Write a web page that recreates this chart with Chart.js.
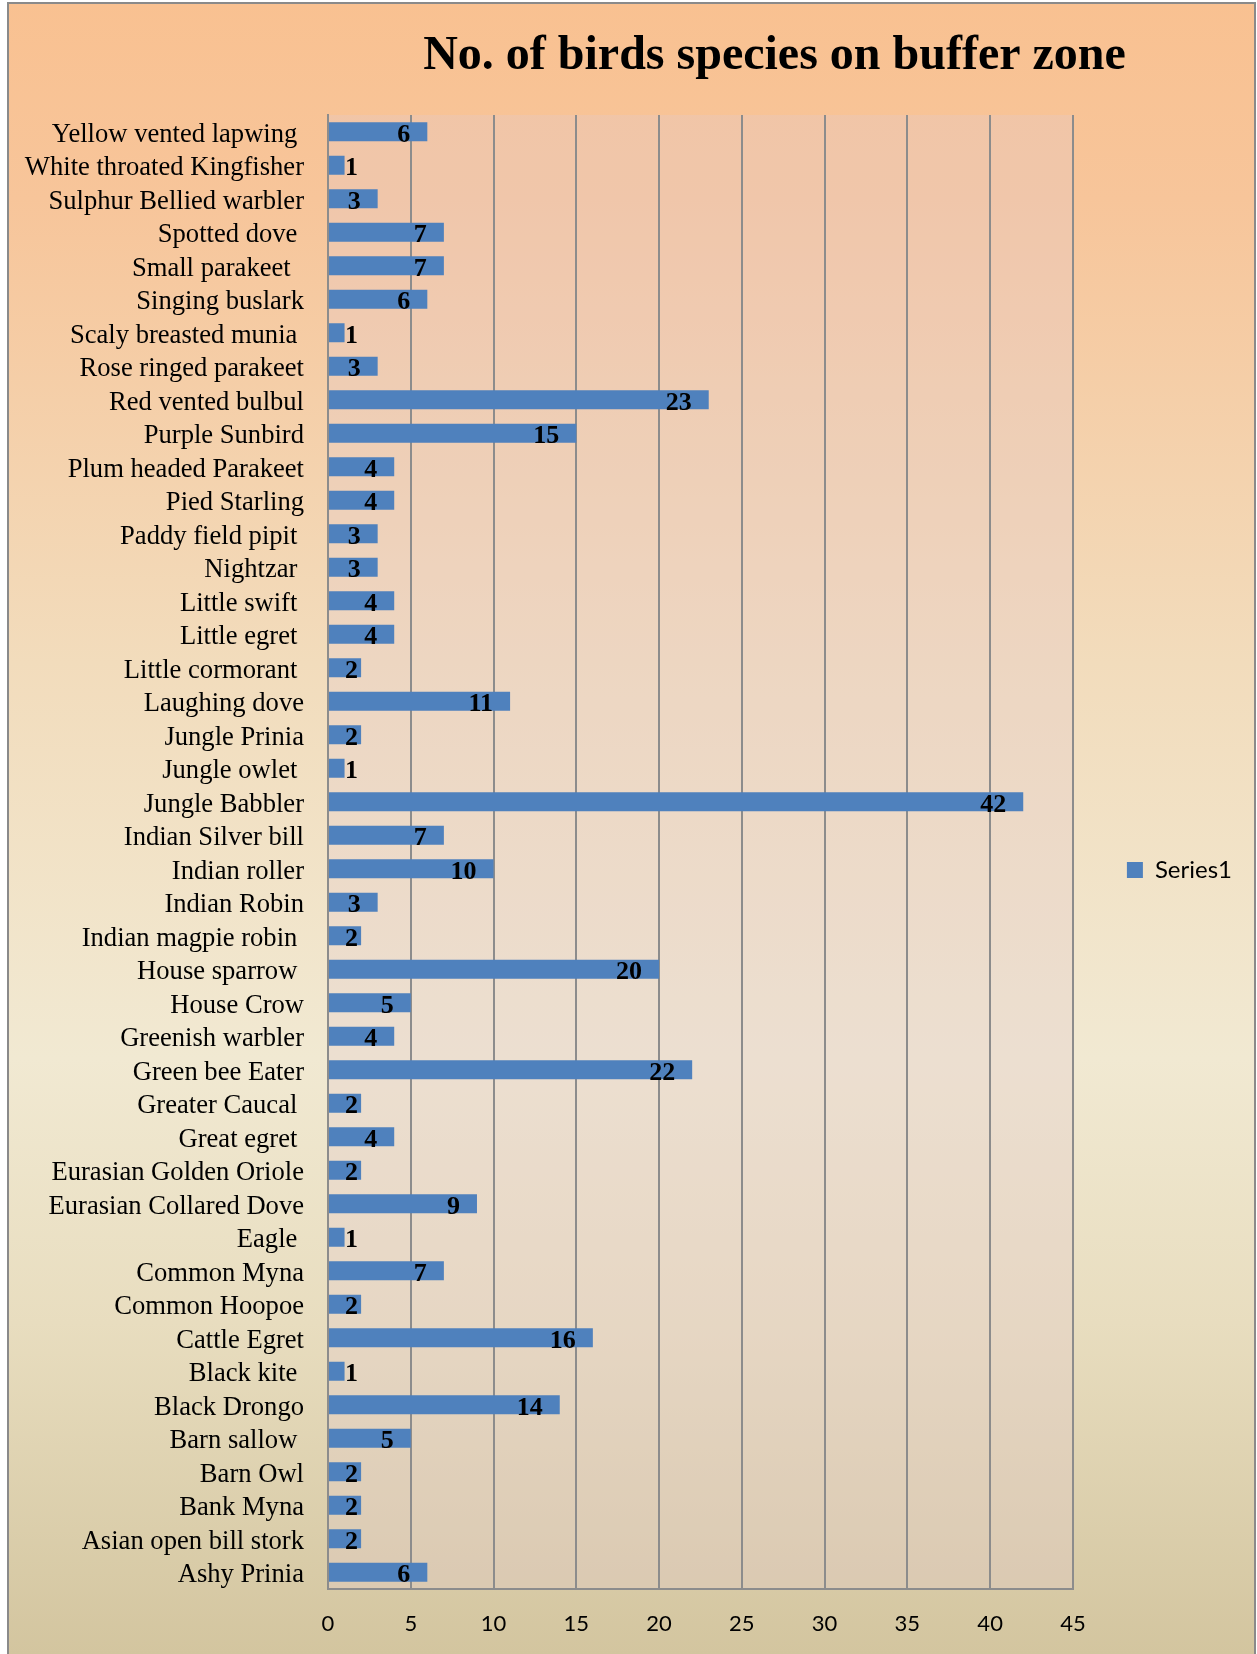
<!DOCTYPE html>
<html>
<head>
<meta charset="utf-8">
<script src="https://cdn.jsdelivr.net/npm/chart.js@4/dist/chart.umd.min.js"></script>
<style>
  body { margin: 0; background: #fff; }
  canvas { display: block; }
</style>
</head>
<body>
<canvas id="birds" width="1257" height="1654"></canvas>
<script>
// species, top row first (some names carry trailing spaces from the source sheet)
const species = [
  'Yellow vented lapwing ', 'White throated Kingfisher', 'Sulphur Bellied warbler', 'Spotted dove ',
  'Small parakeet  ', 'Singing buslark', 'Scaly breasted munia ', 'Rose ringed parakeet',
  'Red vented bulbul', 'Purple Sunbird', 'Plum headed Parakeet', 'Pied Starling',
  'Paddy field pipit ', 'Nightzar ', 'Little swift ', 'Little egret ',
  'Little cormorant ', 'Laughing dove', 'Jungle Prinia', 'Jungle owlet ',
  'Jungle Babbler', 'Indian Silver bill', 'Indian roller', 'Indian Robin',
  'Indian magpie robin ', 'House sparrow ', 'House Crow', 'Greenish warbler',
  'Green bee Eater', 'Greater Caucal ', 'Great egret ', 'Eurasian Golden Oriole',
  'Eurasian Collared Dove', 'Eagle ', 'Common Myna', 'Common Hoopoe',
  'Cattle Egret', 'Black kite ', 'Black Drongo', 'Barn sallow ',
  'Barn Owl', 'Bank Myna', 'Asian open bill stork', 'Ashy Prinia'
];
const counts = [
  6, 1, 3, 7,
  7, 6, 1, 3,
  23, 15, 4, 4,
  3, 3, 4, 4,
  2, 11, 2, 1,
  42, 7, 10, 3,
  2, 20, 5, 4,
  22, 2, 4, 2,
  9, 1, 7, 2,
  16, 1, 14, 5,
  2, 2, 2, 6
];
const xTicks = [0, 5, 10, 15, 20, 25, 30, 35, 40, 45];

const gridGray = '#8c8c8c';

// page background: peach to cream to tan, with a thin frame
const backdrop = {
  id: 'backdrop',
  beforeDraw(chart) {
    const {ctx, width, height, chartArea} = chart;
    ctx.save();
    ctx.fillStyle = '#ffffff';
    ctx.fillRect(0, 0, width, height);
    const g = ctx.createLinearGradient(0, 0, 0, height);
    g.addColorStop(0, '#f9c191');
    g.addColorStop(0.12, '#f7c59a');
    g.addColorStop(0.4, '#f2dcbc');
    g.addColorStop(0.64, '#f1e9d2');
    g.addColorStop(0.8, '#e8ddbf');
    g.addColorStop(1, '#d3c59f');
    ctx.fillStyle = g;
    ctx.fillRect(9, 4, width - 11, height);
    ctx.strokeStyle = '#8a8a8a';
    ctx.lineWidth = 2;
    ctx.strokeRect(8, 3, width - 10, height + 10);
    // plot area tint
    ctx.fillStyle = 'rgba(228, 202, 206, 0.32)';
    ctx.fillRect(chartArea.left, chartArea.top, chartArea.right - chartArea.left, chartArea.bottom - chartArea.top);
    ctx.restore();
  },
  // centre the title over the bars + legend block rather than the whole canvas
  afterLayout(chart) {
    const t = chart.titleBlock;
    if (t) {
      t.left = 306.5;
      t.right = chart.width - 14.5;
      t.width = t.right - t.left;
    }
  }
};

// value labels sit just inside the bar end, pushed right for short bars
const barValues = {
  id: 'barValues',
  afterDatasetsDraw(chart) {
    const {ctx, chartArea} = chart;
    const meta = chart.getDatasetMeta(0);
    ctx.save();
    ctx.font = 'bold 26px "Liberation Serif"';
    ctx.fillStyle = '#000';
    ctx.textAlign = 'right';
    ctx.textBaseline = 'middle';
    meta.data.forEach((bar, i) => {
      const x = Math.max(bar.x - 17, chartArea.left + 30);
      ctx.fillText(String(counts[i]), x, bar.y + 3.5);
    });
    ctx.restore();
  }
};

Chart.defaults.font.family = 'Lato';
Chart.defaults.color = '#000';

new Chart(document.getElementById('birds'), {
  type: 'bar',
  data: {
    labels: species,
    datasets: [{
      label: 'Series1',
      data: counts,
      backgroundColor: '#4f81bd',
      borderWidth: 0,
      barPercentage: 0.567,
      categoryPercentage: 1
    }]
  },
  options: {
    indexAxis: 'y',
    responsive: false,
    animation: false,
    devicePixelRatio: 1,
    layout: { padding: { top: 10, bottom: 15, left: 10, right: 15 } },
    scales: {
      x: {
        min: 0,
        max: 45,
        afterBuildTicks(scale) {
          scale.ticks = xTicks.map(v => ({ value: v }));
        },
        afterFit(scale) { scale.height = 50; },
        grid: { color: gridGray, lineWidth: 2, drawTicks: false },
        border: { display: true, color: gridGray, width: 2 },
        ticks: { padding: 22, font: { family: 'Lato', size: 22 }, color: '#000' }
      },
      y: {
        afterFit(scale) { scale.width = 318; },
        grid: { display: false, drawTicks: false },
        border: { display: true, color: gridGray, width: 2 },
        ticks: {
          autoSkip: false,
          padding: 24,
          labelOffset: 3,
          font: { family: 'Liberation Serif', size: 26.6 },
          color: '#000'
        }
      }
    },
    plugins: {
      title: {
        display: true,
        text: 'No. of birds species on buffer zone',
        color: '#000',
        font: { family: 'Liberation Serif', size: 48, weight: 'bold', lineHeight: 1.2 },
        padding: { top: 18, bottom: 29.4 }
      },
      legend: {
        position: 'right',
        title: { display: true, text: '', padding: 39.5, font: { size: 10 } },
        labels: {
          boxWidth: 16,
          boxHeight: 16,
          padding: 54,
          color: '#000',
          font: { family: 'Lato', size: 24 }
        }
      },
      tooltip: { enabled: false }
    }
  },
  plugins: [backdrop, barValues]
});
</script>
</body>
</html>
